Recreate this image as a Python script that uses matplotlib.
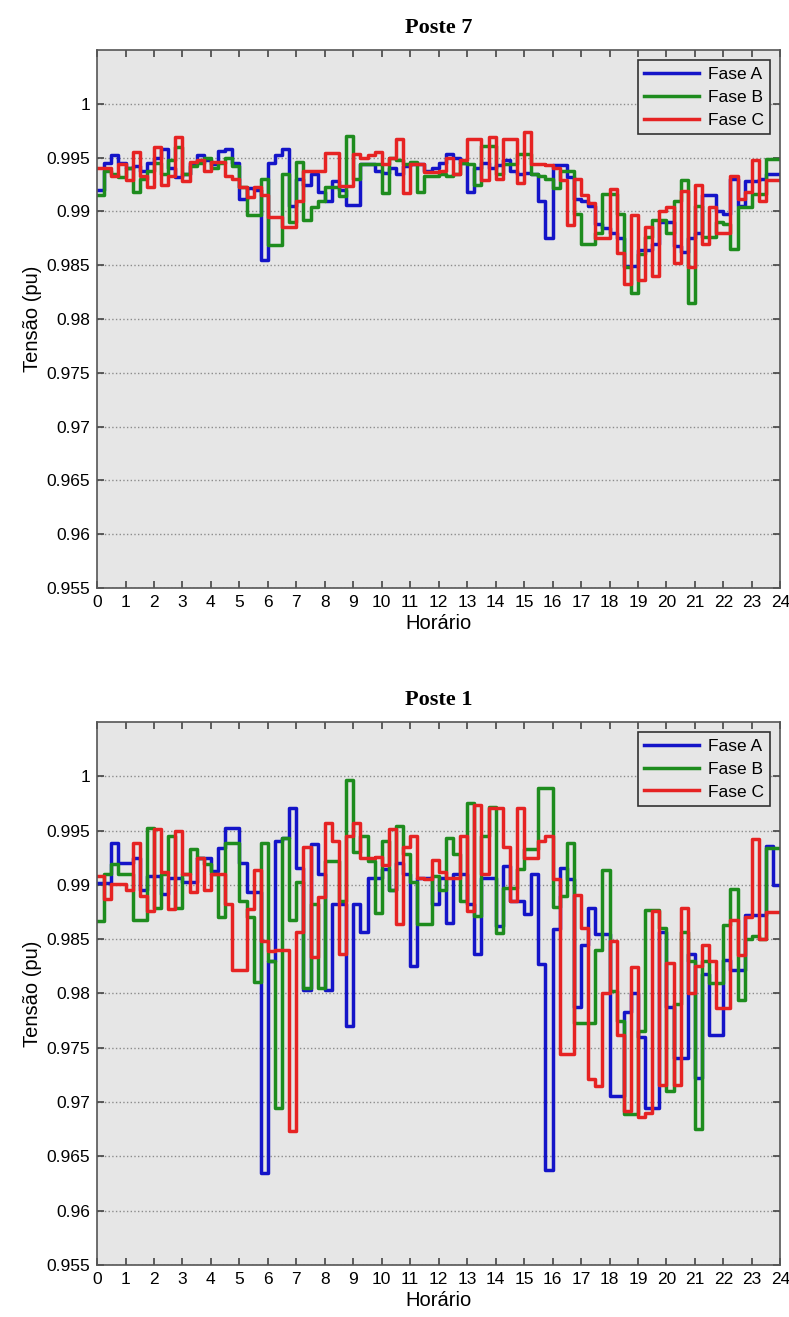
import numpy as np
import matplotlib
matplotlib.use("Agg")
import matplotlib.pyplot as plt

# 15-min steps, 96 values per phase (one row = one hour)
hours = np.arange(96) / 4.0

# Poste 7
p7_fase_a = [0.9920, 0.9945, 0.9952, 0.9945,
             0.9940, 0.9942, 0.9938, 0.9945,
             0.9950, 0.9958, 0.9940, 0.9932,
             0.9935, 0.9945, 0.9952, 0.9948,
             0.9944, 0.9956, 0.9958, 0.9945,
             0.9912, 0.9922, 0.9920, 0.9855,
             0.9945, 0.9952, 0.9958, 0.9905,
             0.9930, 0.9925, 0.9935, 0.9918,
             0.9910, 0.9928, 0.9920, 0.9906,
             0.9906, 0.9944, 0.9944, 0.9938,
             0.9936, 0.9940, 0.9935, 0.9942,
             0.9944, 0.9944, 0.9938, 0.9940,
             0.9945, 0.9953, 0.9950, 0.9945,
             0.9918, 0.9940, 0.9945, 0.9940,
             0.9943, 0.9948, 0.9938, 0.9935,
             0.9936, 0.9935, 0.9910, 0.9875,
             0.9943, 0.9943, 0.9932, 0.9912,
             0.9910, 0.9905, 0.9888, 0.9885,
             0.9880, 0.9875, 0.9849, 0.9849,
             0.9864, 0.9864, 0.9870, 0.9890,
             0.9890, 0.9868, 0.9862, 0.9875,
             0.9880, 0.9915, 0.9915, 0.9900,
             0.9898, 0.9930, 0.9905, 0.9928,
             0.9928, 0.9930, 0.9935, 0.9935]

p7_fase_b = [0.9915, 0.9938, 0.9935, 0.9932,
             0.9940, 0.9918, 0.9930, 0.9938,
             0.9945, 0.9935, 0.9948, 0.9960,
             0.9935, 0.9942, 0.9945, 0.9950,
             0.9940, 0.9945, 0.9950, 0.9942,
             0.9923, 0.9897, 0.9897, 0.9930,
             0.9869, 0.9869, 0.9935, 0.9890,
             0.9946, 0.9892, 0.9904, 0.9910,
             0.9923, 0.9923, 0.9914, 0.9970,
             0.9930, 0.9944, 0.9944, 0.9944,
             0.9917, 0.9950, 0.9948, 0.9944,
             0.9946, 0.9918, 0.9933, 0.9933,
             0.9935, 0.9933, 0.9935, 0.9945,
             0.9944, 0.9925, 0.9961, 0.9961,
             0.9935, 0.9944, 0.9944, 0.9953,
             0.9953, 0.9935, 0.9933, 0.9930,
             0.9922, 0.9938, 0.9938, 0.9898,
             0.9870, 0.9870, 0.9880, 0.9916,
             0.9916, 0.9898, 0.9848, 0.9824,
             0.9860, 0.9876, 0.9892, 0.9892,
             0.9880, 0.9910, 0.9929, 0.9815,
             0.9905, 0.9876, 0.9876, 0.9890,
             0.9888, 0.9865, 0.9904, 0.9904,
             0.9916, 0.9916, 0.9949, 0.9949]

p7_fase_c = [0.9940, 0.9940, 0.9933, 0.9944,
             0.9929, 0.9955, 0.9933, 0.9923,
             0.9960, 0.9925, 0.9933, 0.9969,
             0.9928, 0.9946, 0.9948, 0.9938,
             0.9946, 0.9946, 0.9933, 0.9930,
             0.9923, 0.9913, 0.9923, 0.9915,
             0.9895, 0.9895, 0.9886, 0.9886,
             0.9910, 0.9938, 0.9938, 0.9938,
             0.9954, 0.9954, 0.9924, 0.9924,
             0.9953, 0.9950, 0.9952, 0.9955,
             0.9944, 0.9950, 0.9967, 0.9917,
             0.9944, 0.9944, 0.9937, 0.9937,
             0.9938, 0.9950, 0.9935, 0.9948,
             0.9967, 0.9967, 0.9929, 0.9969,
             0.9930, 0.9967, 0.9967, 0.9926,
             0.9974, 0.9944, 0.9944, 0.9943,
             0.9940, 0.9929, 0.9887, 0.9930,
             0.9915, 0.9908, 0.9875, 0.9875,
             0.9921, 0.9861, 0.9833, 0.9897,
             0.9836, 0.9886, 0.9840, 0.9900,
             0.9904, 0.9852, 0.9919, 0.9848,
             0.9925, 0.9870, 0.9904, 0.9880,
             0.9880, 0.9933, 0.9912, 0.9918,
             0.9948, 0.9910, 0.9929, 0.9929]

# Poste 1
p1_fase_a = [0.9902, 0.9902, 0.9939, 0.9920,
             0.9920, 0.9925, 0.9895, 0.9908,
             0.9908, 0.9892, 0.9906, 0.9906,
             0.9903, 0.9903, 0.9925, 0.9925,
             0.9913, 0.9934, 0.9952, 0.9952,
             0.9920, 0.9893, 0.9893, 0.9635,
             0.9830, 0.9940, 0.9943, 0.9971,
             0.9916, 0.9803, 0.9938, 0.9910,
             0.9803, 0.9882, 0.9882, 0.9770,
             0.9882, 0.9857, 0.9906, 0.9906,
             0.9915, 0.9895, 0.9920, 0.9910,
             0.9825, 0.9906, 0.9906, 0.9882,
             0.9906, 0.9865, 0.9910, 0.9910,
             0.9882, 0.9836, 0.9906, 0.9906,
             0.9862, 0.9917, 0.9885, 0.9885,
             0.9873, 0.9910, 0.9827, 0.9637,
             0.9859, 0.9916, 0.9905, 0.9788,
             0.9845, 0.9879, 0.9855, 0.9855,
             0.9706, 0.9706, 0.9783, 0.9800,
             0.9760, 0.9695, 0.9695, 0.9857,
             0.9788, 0.9741, 0.9741, 0.9836,
             0.9722, 0.9818, 0.9762, 0.9762,
             0.9831, 0.9822, 0.9822, 0.9872,
             0.9872, 0.9872, 0.9936, 0.9900]

p1_fase_b = [0.9867, 0.9910, 0.9919, 0.9910,
             0.9910, 0.9868, 0.9868, 0.9952,
             0.9879, 0.9910, 0.9945, 0.9879,
             0.9910, 0.9933, 0.9925, 0.9919,
             0.9910, 0.9870, 0.9939, 0.9939,
             0.9885, 0.9870, 0.9811, 0.9939,
             0.9830, 0.9695, 0.9943, 0.9868,
             0.9903, 0.9805, 0.9882, 0.9805,
             0.9922, 0.9922, 0.9885, 0.9997,
             0.9930, 0.9945, 0.9922, 0.9874,
             0.9940, 0.9895, 0.9954, 0.9928,
             0.9903, 0.9864, 0.9864, 0.9908,
             0.9895, 0.9943, 0.9928, 0.9885,
             0.9975, 0.9871, 0.9945, 0.9972,
             0.9856, 0.9897, 0.9897, 0.9915,
             0.9933, 0.9933, 0.9989, 0.9989,
             0.9880, 0.9890, 0.9939, 0.9773,
             0.9773, 0.9773, 0.9840, 0.9914,
             0.9802, 0.9775, 0.9689, 0.9689,
             0.9765, 0.9877, 0.9877, 0.9860,
             0.9710, 0.9790, 0.9857, 0.9830,
             0.9675, 0.9830, 0.9810, 0.9810,
             0.9863, 0.9896, 0.9794, 0.9850,
             0.9853, 0.9850, 0.9934, 0.9934]

p1_fase_c = [0.9908, 0.9887, 0.9901, 0.9901,
             0.9895, 0.9939, 0.9890, 0.9876,
             0.9951, 0.9912, 0.9878, 0.9950,
             0.9910, 0.9893, 0.9925, 0.9895,
             0.9910, 0.9910, 0.9882, 0.9822,
             0.9822, 0.9878, 0.9914, 0.9848,
             0.9839, 0.9840, 0.9840, 0.9673,
             0.9857, 0.9935, 0.9834, 0.9889,
             0.9957, 0.9940, 0.9836, 0.9945,
             0.9957, 0.9925, 0.9925, 0.9926,
             0.9918, 0.9951, 0.9864, 0.9935,
             0.9945, 0.9906, 0.9905, 0.9923,
             0.9912, 0.9906, 0.9906, 0.9945,
             0.9876, 0.9974, 0.9910, 0.9971,
             0.9971, 0.9935, 0.9885, 0.9971,
             0.9925, 0.9925, 0.9940, 0.9945,
             0.9905, 0.9744, 0.9744, 0.9891,
             0.9860, 0.9721, 0.9715, 0.9800,
             0.9848, 0.9762, 0.9692, 0.9824,
             0.9686, 0.9690, 0.9876, 0.9716,
             0.9828, 0.9716, 0.9879, 0.9800,
             0.9825, 0.9845, 0.9830, 0.9787,
             0.9787, 0.9868, 0.9835, 0.9870,
             0.9942, 0.9850, 0.9875, 0.9875]

phase_names = ["Fase A", "Fase B", "Fase C"]
phase_colors = ["#1414c8", "#1e8c1e", "#e62323"]

yticks = [0.955, 0.96, 0.965, 0.97, 0.975, 0.98, 0.985, 0.99, 0.995, 1.0]
ytick_labels = ["0.955", "0.96", "0.965", "0.97", "0.975", "0.98",
                "0.985", "0.99", "0.995", "1"]

plt.rcParams["font.family"] = ["Liberation Sans", "DejaVu Sans"]

fig = plt.figure(figsize=(7.89, 13.17), dpi=100)
ax_top = fig.add_axes([0.123, 0.5535, 0.866, 0.4085])
ax_bot = fig.add_axes([0.123, 0.0395, 0.866, 0.4123])

panels = [(ax_top, "Poste 7", [p7_fase_a, p7_fase_b, p7_fase_c]),
          (ax_bot, "Poste 1", [p1_fase_a, p1_fase_b, p1_fase_c])]

for ax, title, series in panels:
    ax.set_facecolor("#e6e6e6")
    for vals, name, color in zip(series, phase_names, phase_colors):
        x = np.append(hours, 24.0)
        y = np.append(vals, vals[-1])
        ax.plot(x, y, drawstyle="steps-post", color=color, linewidth=2.5, label=name)

    ax.set_xlim(0, 24)
    ax.set_ylim(0.955, 1.005)
    ax.set_xticks(range(25))
    ax.set_yticks(yticks)
    ax.set_yticklabels(ytick_labels)
    ax.tick_params(direction="in", top=True, right=True, length=5,
                   width=1.2, color="#444444", labelsize=12.5, pad=5)
    ax.yaxis.grid(True, linestyle=":", color="#8c8c8c", linewidth=1.0)
    ax.set_axisbelow(True)
    for sp in ax.spines.values():
        sp.set_color("#555555")
        sp.set_linewidth(1.2)

    ax.set_xlabel("Horário", fontsize=14.5, labelpad=3)
    ax.set_ylabel("Tensão (pu)", fontsize=14.5, labelpad=3)
    ax.set_title(title, fontsize=16, fontweight="bold",
                 family=["Liberation Serif", "DejaVu Serif"], pad=12)

    leg = ax.legend(loc="upper right", fontsize=12.5, handlelength=3.2,
                    borderaxespad=0.6, fancybox=False, framealpha=1.0,
                    labelspacing=0.45, handletextpad=0.5, borderpad=0.35)
    leg.get_frame().set_facecolor("#e6e6e6")
    leg.get_frame().set_edgecolor("#333333")
    leg.get_frame().set_linewidth(1.2)

fig.savefig("out.png", dpi=100)
